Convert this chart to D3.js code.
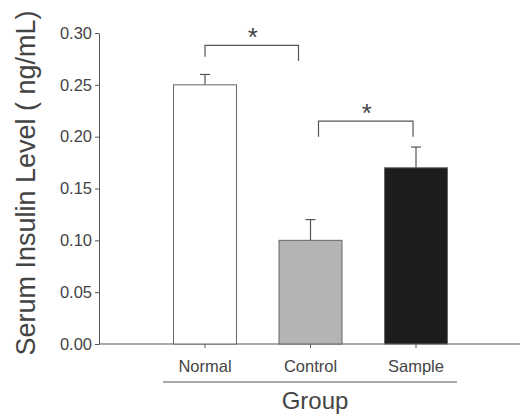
<!DOCTYPE html>
<html>

<head>
  <script src="https://d3js.org/d3.v7.min.js"></script>
  <style>
    body {
      margin: 0;
      background: #fff;
      font-family: 'Liberation Sans', Arial, sans-serif;
    }
  </style>
</head>

<body>
  <svg width="520" height="416"></svg>
</body>
<script>

  var groups = ['Normal', 'Control', 'Sample'];
  var means = [0.25, 0.10, 0.17];
  var errors = [0.01, 0.02, 0.02];
  var fills = ['#ffffff', '#b4b4b4', '#1c1c1c'];
  var yTicks = [0.00, 0.05, 0.10, 0.15, 0.20, 0.25, 0.30];
  // significance brackets: [from, to, level of the bar]
  var brackets = [
    { a: 'Normal', b: 'Control', level: 0.288, leftEnd: 0.277, rightEnd: 0.273 },
    { a: 'Control', b: 'Sample', level: 0.215, leftEnd: 0.2, rightEnd: 0.2 }
  ];

  var ink = '#555';
  var svg = d3.select('svg');

  var y = d3.scaleLinear().domain([0, 0.30]).range([344, 33]);
  var x = d3.scalePoint().domain(groups).range([205, 416]);
  var barW = 63;

  // y axis
  var yAxis = svg.append('g').attr('transform', 'translate(99,0)')
    .call(d3.axisLeft(y).tickValues(yTicks).tickFormat(d3.format('.2f')).tickSize(4).tickSizeOuter(0));
  yAxis.select('.domain').attr('stroke', ink);
  yAxis.selectAll('.tick line').attr('stroke', ink);
  yAxis.selectAll('.tick text').attr('fill', '#444').attr('font-size', 16.5)
    .attr('font-family', "'Liberation Sans', Arial, sans-serif").attr('x', -7);

  // x axis line + ticks
  svg.append('line').attr('x1', 99).attr('x2', 520).attr('y1', y(0)).attr('y2', y(0))
    .attr('stroke', ink).attr('stroke-width', 1.2);
  svg.selectAll('.xt').data(groups).enter().append('line')
    .attr('x1', d => x(d)).attr('x2', d => x(d))
    .attr('y1', y(0)).attr('y2', y(0) + 4).attr('stroke', ink);
  svg.selectAll('.xl').data(groups).enter().append('text')
    .attr('x', d => x(d)).attr('y', 372).attr('text-anchor', 'middle')
    .attr('font-size', 16.5).attr('fill', '#444').text(d => d);

  // bars
  svg.selectAll('.bar').data(groups).enter().append('rect')
    .attr('x', d => x(d) - barW / 2).attr('width', barW)
    .attr('y', (d, i) => y(means[i])).attr('height', (d, i) => y(0) - y(means[i]))
    .attr('fill', (d, i) => fills[i]).attr('stroke', '#666').attr('stroke-width', 1);

  // error bars (upper only)
  groups.forEach(function (g, i) {
    svg.append('line').attr('x1', x(g)).attr('x2', x(g))
      .attr('y1', y(means[i])).attr('y2', y(means[i] + errors[i])).attr('stroke', ink).attr('stroke-width', 1.2);
    svg.append('line').attr('x1', x(g) - 5).attr('x2', x(g) + 5)
      .attr('y1', y(means[i] + errors[i])).attr('y2', y(means[i] + errors[i])).attr('stroke', ink).attr('stroke-width', 1.2);
  });

  // brackets
  brackets.forEach(function (b) {
    var x1 = x(b.a), x2 = x(b.b) - 12;
    if (b.a === 'Control') { x1 = x(b.a) + 8; x2 = x(b.b) - 3; }
    svg.append('path')
      .attr('d', 'M' + x1 + ',' + y(b.leftEnd) + 'V' + y(b.level) + 'H' + x2 + 'V' + y(b.rightEnd))
      .attr('fill', 'none').attr('stroke', ink).attr('stroke-width', 1.2);
    svg.append('text').attr('x', (x1 + x2) / 2 + 1).attr('y', y(b.level) + 1)
      .attr('text-anchor', 'middle').attr('font-size', 26).attr('fill', '#444').text('*');
  });

  // group line and title
  svg.append('line').attr('x1', 163).attr('x2', 457).attr('y1', 382).attr('y2', 382)
    .attr('stroke', ink).attr('stroke-width', 1.2);
  svg.append('text').attr('x', 315).attr('y', 409).attr('text-anchor', 'middle')
    .attr('font-size', 24).attr('fill', '#444').text('Group');

  // y title
  svg.append('text').attr('transform', 'translate(35,183) rotate(-90)')
    .attr('text-anchor', 'middle').attr('font-size', 27).attr('fill', '#444')
    .text('Serum Insulin Level ( ng/mL)');

</script>

</html>
